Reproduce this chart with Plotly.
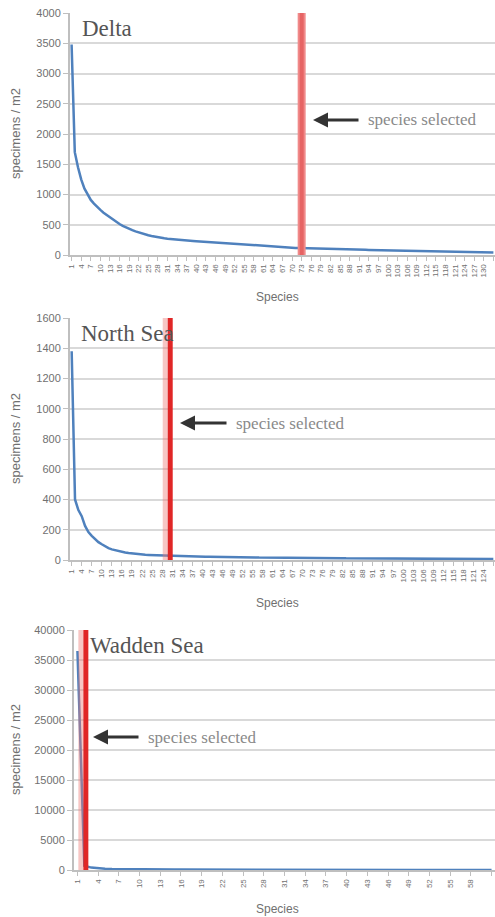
import plotly.graph_objects as go

# ---------------- data ----------------
panel_titles = ["Delta", "North Sea", "Wadden Sea"]

delta_values = [
    3480, 1700, 1450, 1250, 1100, 1000, 910, 850, 790, 745,
    700, 660, 618, 580, 545, 512, 482, 455, 432, 410,
    390, 372, 355, 340, 326, 313, 301, 291, 283, 276,
    269, 263, 258, 253, 249, 245, 241, 237, 233, 229,
    225, 221, 217, 213, 209, 205, 201, 197, 193, 189,
    185, 181, 177, 173, 169, 165, 161, 157, 153, 149,
    146, 143, 140, 137, 134, 131, 128, 125, 122, 119,
    117, 115, 113, 111, 109, 107, 105, 103, 101, 99,
    97, 96, 95, 94, 93, 92, 91, 90, 89, 88,
    87, 86, 85, 84, 83, 82, 81, 80, 79, 78,
    77, 76, 75, 74, 73, 72, 71, 70, 69, 68,
    67, 66, 65, 64, 63, 62, 61, 60, 59, 58,
    57, 56, 55, 54, 53, 52, 51, 50, 48, 46, 44, 42, 40,
]

north_values = [
    1380, 400, 330, 290, 225, 185, 160, 138, 118, 104,
    88, 78, 70, 64, 58, 54, 50, 46, 43, 40,
    38, 36, 34, 33, 32, 31, 30, 29, 28, 27,
    26, 26, 25, 25, 24, 24, 23, 23, 22, 22,
    21, 21, 21, 20, 20, 20, 19, 19, 19, 18,
    18, 18, 17, 17, 17, 17, 16, 16, 16, 16,
    15, 15, 15, 15, 15, 14, 14, 14, 14, 14,
    13, 13, 13, 13, 13, 13, 12, 12, 12, 12,
    12, 12, 11, 11, 11, 11, 11, 11, 11, 10,
    10, 10, 10, 10, 10, 10, 10, 9, 9, 9,
    9, 9, 9, 9, 9, 9, 8, 8, 8, 8,
    8, 8, 8, 8, 8, 8, 7, 7, 7, 7,
    7, 7, 7, 7, 6, 6, 6,
]

wadden_values = [
    36500, 700, 400, 280, 220, 180, 155, 135, 120, 108,
    98, 90, 84, 78, 73, 68, 64, 60, 57, 54,
    51, 48, 46, 44, 42, 40, 38, 36, 35, 34,
    33, 32, 31, 30, 29, 28, 27, 26, 25, 24,
    24, 23, 23, 22, 22, 21, 21, 20, 20, 19,
    19, 18, 18, 17, 17, 16, 16, 15, 15, 14, 14,
]

selected_species = [73, 30, 2]
y_max = [4000, 1600, 40000]
y_step = [500, 200, 5000]
tick_step = [3, 3, 3]
y_axis_title = "specimens / m2"
x_axis_title = "Species"
annotation_text = "species selected"

all_values = [delta_values, north_values, wadden_values]

# ---------------- layout helpers (pixels -> paper) ----------------
W, H = 495, 917


def px(x):
    return x / W


def py(y):
    return 1 - y / H


# plot areas in pixels: (left, top, bottom)
areas = [(70, 13, 255), (70, 318, 560), (74, 630, 870)]
title_pos = [(80, 28), (79, 333), (88, 645)]
arrow_pos = [(313, 120, 360, 366), (180, 423, 228, 234), (93, 737, 140, 146)]
species_title_y = [297, 603, 909]

fig = go.Figure()
layout = dict(
    width=W, height=H,
    margin=dict(l=0, r=0, t=0, b=0, autoexpand=False),
    paper_bgcolor="white", plot_bgcolor="white",
    showlegend=False,
    font=dict(family="Liberation Sans", color="#595959"),
)
shapes = []
annotations = []

for i, vals in enumerate(all_values):
    n = len(vals)
    xs = list(range(1, n + 1))
    sfx = "" if i == 0 else str(i + 1)
    fig.add_trace(go.Scatter(
        x=xs, y=vals, mode="lines",
        line=dict(color="#4f81bd", width=2.5),
        xaxis="x" + sfx, yaxis="y" + sfx, hoverinfo="skip",
    ))
    left, top, bottom = areas[i]
    ticks = list(range(1, n + 1, tick_step[i]))
    layout["xaxis" + sfx] = dict(
        domain=[px(left), 1.0], anchor="y" + sfx, automargin=False,
        range=[0.5, n + 0.5],
        tickmode="array", tickvals=ticks, ticktext=[str(t) for t in ticks],
        tickangle=-90, tickfont=dict(size=8, color="#707070"),
        showgrid=False, zeroline=False,
        showline=True, linecolor="#bfbfbf", linewidth=2,
        ticks="outside", ticklen=4, tickcolor="#bfbfbf",
    )
    layout["yaxis" + sfx] = dict(
        domain=[py(bottom), py(top)], anchor="x" + sfx, automargin=False,
        range=[0, y_max[i]], dtick=y_step[i], tick0=0, tickformat="d",
        tickfont=dict(size=11, color="#707070"),
        showgrid=True, gridcolor="#d9d9d9", gridwidth=2,
        zeroline=False, showline=True, linecolor="#bfbfbf", linewidth=2,
        ticks="outside", ticklen=5, tickcolor="#bfbfbf",
    )
    # selected-species marker line
    sel = selected_species[i]
    if i == 0:
        bands = [(-4, 4, "#f08a8a"), (-2, 2, "#e66464")]
    else:
        bands = [(-6, -1, "rgba(236,120,115,0.42)"), (-1, 4, "#e02626")]
    for x0, x1, col in bands:
        shapes.append(dict(
            type="rect", xref="x" + sfx, yref="y" + sfx + " domain",
            xsizemode="pixel", xanchor=sel, x0=x0, x1=x1,
            y0=0, y1=1.0, fillcolor=col, line=dict(width=0), layer="above",
        ))
    # panel title
    tx, ty = title_pos[i]
    annotations.append(dict(
        text=panel_titles[i], xref="paper", yref="paper",
        x=px(tx), y=py(ty), xanchor="left", yanchor="middle", showarrow=False,
        font=dict(family="Liberation Serif", size=23, color="#555555"),
    ))
    # arrow + label
    hx, hy, tailx, textx = arrow_pos[i]
    annotations.append(dict(
        text="", xref="paper", yref="paper", x=px(hx), y=py(hy),
        ax=tailx - hx, ay=0, showarrow=True, arrowhead=2, arrowsize=1,
        arrowwidth=3, arrowcolor="#333333",
    ))
    annotations.append(dict(
        text=annotation_text, xref="paper", yref="paper",
        x=px(textx), y=py(hy), xanchor="left", yanchor="middle", showarrow=False,
        font=dict(family="Liberation Serif", size=17, color="#8a8a8a"),
    ))
    # axis titles
    annotations.append(dict(
        text=y_axis_title, xref="paper", yref="paper",
        x=px(15), y=py((top + bottom) / 2), textangle=-90,
        xanchor="center", yanchor="middle", showarrow=False,
        font=dict(size=13, color="#707070"),
    ))
    annotations.append(dict(
        text=x_axis_title, xref="paper", yref="paper",
        x=px(277), y=py(species_title_y[i]),
        xanchor="center", yanchor="middle", showarrow=False,
        font=dict(size=12, color="#707070"),
    ))

layout["shapes"] = shapes
layout["annotations"] = annotations
fig.update_layout(**layout)
fig.write_html(
    "out.html",
    config={"displayModeBar": False},
    post_script="document.body.style.margin='0';document.body.style.overflow='hidden';",
)
